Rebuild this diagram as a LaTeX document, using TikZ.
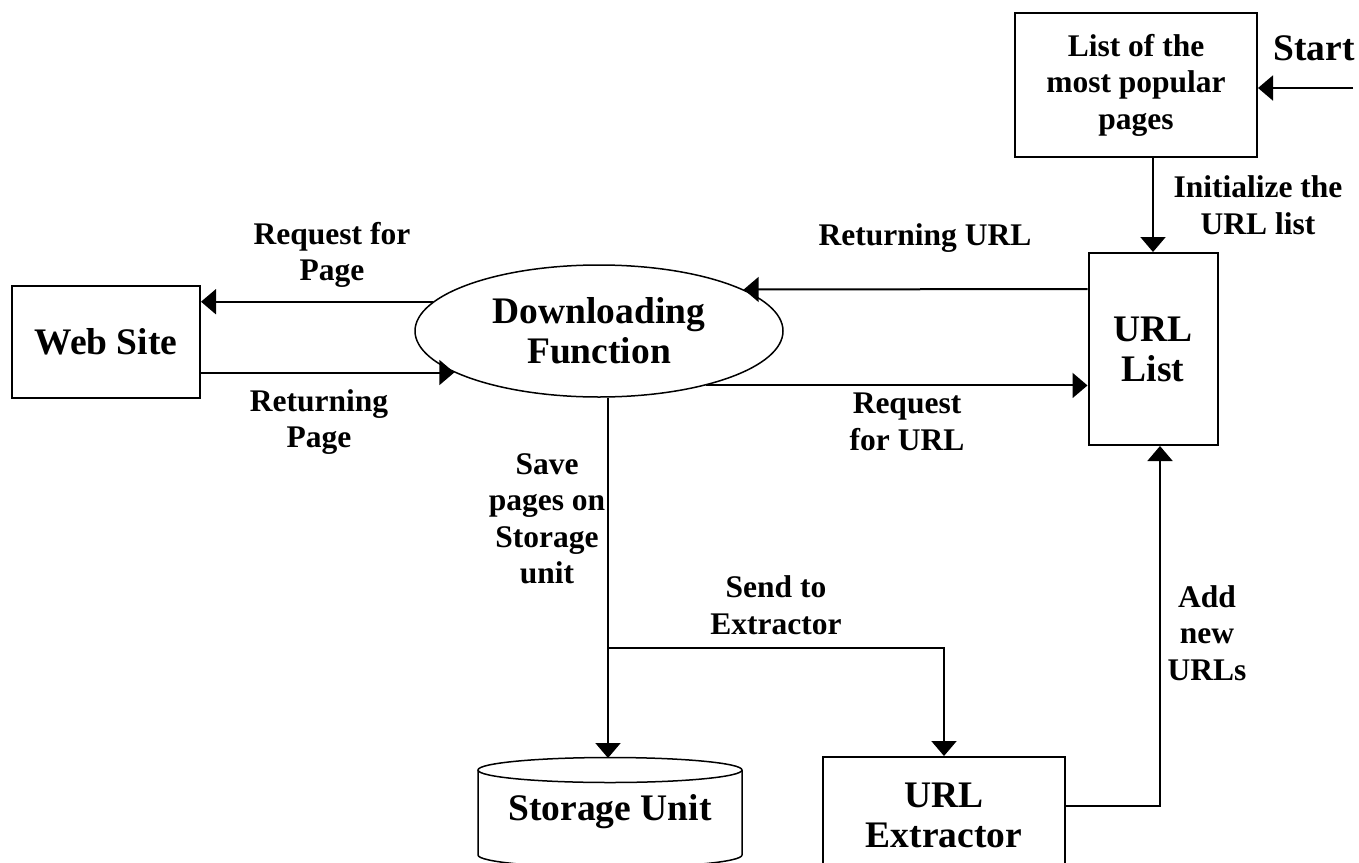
\documentclass[tikz,border=0pt]{standalone}
\usepackage{fontspec}
\setmainfont{Liberation Serif}
\usetikzlibrary{arrows.meta,shapes.geometric}
\newcommand\dgBig{\bfseries\fontsize{37.5}{40}\selectfont}
\newcommand\dgLbl{\bfseries\fontsize{31.5}{36.5}\selectfont}
\begin{document}
\begin{tikzpicture}[x=1pt,y=-1pt,line width=2pt,
  box/.style={draw,rectangle,line width=2pt,align=center,inner sep=0pt},
  lbl/.style={align=center,font=\dgLbl,inner sep=0pt},
  arr/.style={-{Triangle[length=15pt,width=25pt]}}]
\useasboundingbox (0,0) rectangle (1359,862);
\clip (0,0) rectangle (1359,862);
% nodes
\node[box,font=\dgLbl,minimum width=242pt,minimum height=144pt] (top) at (1136,85) {List of the\\most popular\\pages};
\node[lbl,font=\dgBig] (start) at (1314,48) {Start};
\coordinate (startEnd) at (1353,88);
\node[box,font=\dgBig,minimum width=129pt,minimum height=192pt] (url) at (1153,349) {URL\\List};
\node[draw,ellipse,line width=1.5pt,font=\dgBig,align=center,inner sep=0pt,
      minimum width=368pt,minimum height=132pt] (dl) at (599,331) {Downloading\\Function};
\node[box,font=\dgBig,minimum width=188pt,minimum height=112pt] (web) at (106,342) {Web Site};
\node[box,font=\dgBig,minimum width=242pt,minimum height=116pt] (ext) at (944,815) {URL\\Extractor};
% storage cylinder
\draw[line width=1.5pt] (610,770) ellipse [x radius=132pt,y radius=12.5pt];
\draw[line width=1.5pt] (478,770) -- (478,855) arc[start angle=180,end angle=360,x radius=132pt,y radius=12.5pt] -- (742,770);
\node[font=\dgBig,inner sep=0pt] (stor) at (610,812) {Storage Unit};
\coordinate (storTop) at (608,758);
\coordinate (split) at (608,648);
% labels
\node[lbl] (lInit) at (1258,205) {Initialize the\\URL list};
\node[lbl] (lRetUrl) at (925,238) {Returning URL};
\node[lbl] (lReqPage) at (332,255) {Request for\\Page};
\node[lbl] (lRetPage) at (319,422) {Returning\\Page};
\node[lbl] (lReqUrl) at (907,422) {Request\\for URL};
\node[lbl] (lSave) at (547,519) {Save\\pages on\\Storage\\unit};
\node[lbl] (lSend) at (776,605) {Send to\\Extractor};
\node[lbl] (lAdd) at (1207,633) {Add\\new\\URLs};
% connectors
\draw[arr] (startEnd) -- (startEnd -| top.east);
\draw[arr] (top.south -| url.north) -- (url.north);
\draw[arr] ([yshift=60pt]url.west) -- (dl.16.6);
\draw[arr] (dl.-27.4) -- (dl.-27.4 -| url.west);
\draw[arr] (dl.170) -- (dl.170 -| web.east);
\draw[arr] (dl.196.5 -| web.east) -- (dl.196.5);
\draw[arr] (split |- dl.south) -- (storTop);
\draw[arr] (split) -- (split -| ext.north) -- (ext.north);
\draw[arr] ([yshift=9pt]ext.east) -| ([xshift=7pt]url.south);
\end{tikzpicture}
\end{document}
